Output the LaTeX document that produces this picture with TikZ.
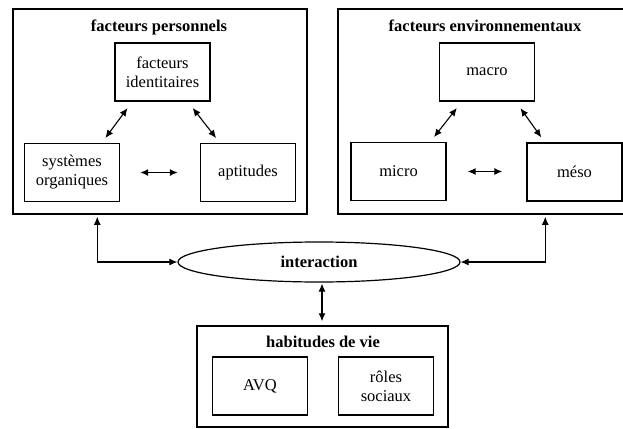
\documentclass[tikz,border=0pt]{standalone}
\usepackage{fontspec}
\setmainfont{Liberation Serif}
\usetikzlibrary{arrows.meta,shapes.geometric,positioning}

\newcommand{\diagfont}{\fontsize{16.5}{19}\selectfont}

\begin{document}
\begin{tikzpicture}[
    x=1pt, y=-1pt,
    frame/.style={draw, rectangle, line width=1.5pt},
    box/.style={draw, rectangle, line width=1.4pt, minimum width=95pt, minimum height=58pt, align=center, inner sep=2pt, font=\diagfont},
    title/.style={anchor=base, inner sep=0pt, font=\diagfont\bfseries},
    arrow/.style={{Latex[length=8pt,width=7pt]}-{Latex[length=8pt,width=7pt]}, line width=1.1pt}
]
\useasboundingbox (0,0) rectangle (623,428);
\clip (0,0) rectangle (623,428);

% Outer frames
\node[frame, minimum width=294pt, minimum height=205pt] (perso) at (160,111.5) {};
\node[frame, minimum width=294pt, minimum height=205pt] (envir) at (485,111.5) {};
\node[frame, minimum width=251pt, minimum height=101pt] (habit) at (322.5,376.5) {};

% Titles
\node[title] (persotitle) at (159,31.5) {facteurs personnels};
\node[title] (envirtitle) at (485,31.5) {facteurs environnementaux};
\node[title] (habittitle) at (323,347.5) {habitudes de vie};

% Personal factors
\node[box] (ident) at (162.5,72) {facteurs\\identitaires};
\node[box] (sysorg) at (72,172.5) {systèmes\\organiques};
\node[box] (aptit) at (248,172.5) {aptitudes};

% Environmental factors
\node[box] (macro) at (487,72) {macro};
\node[box] (micro) at (398.5,171.5) {micro};
\node[box] (meso) at (574.5,172) {méso};

% Life habits
\node[box] (avq) at (260,386) {AVQ};
\node[box] (roles) at (386,386) {rôles\\sociaux};

% Interaction
\node[draw, ellipse, line width=1.2pt, minimum width=282pt, minimum height=40pt, font=\diagfont\bfseries] (inter) at (319,262) {interaction};

% Arrows inside the frames
\draw[arrow, shorten <=8pt, shorten >=6pt] ([xshift=18pt]ident.south west) -- ([xshift=78pt]sysorg.north west);
\draw[arrow, shorten <=8pt, shorten >=6pt] ([xshift=73.5pt]ident.south west) -- ([xshift=20pt]aptit.north west);
\draw[arrow, shorten <=20pt, shorten >=22pt] (sysorg.east) -- (sysorg.east -| aptit.west);
\draw[arrow, shorten <=8pt, shorten >=6pt] ([xshift=23pt]macro.south west) -- ([xshift=80pt]micro.north west);
\draw[arrow, shorten <=8pt, shorten >=6pt] ([xshift=77pt]macro.south west) -- ([xshift=18.5pt]meso.north west);
\draw[arrow, shorten <=21pt, shorten >=24pt] (micro.east) -- (micro.east -| meso.west);

% Arrows to the interaction
\draw[arrow, shorten >=2pt] (inter.west) -| ([xshift=85pt]perso.south west);
\draw[arrow, shorten >=2pt] (inter.east) -| ([xshift=208pt]envir.south west);
\draw[arrow, shorten <=1pt, shorten >=4pt] ([xshift=3pt]inter.south) -- ([xshift=3pt]inter.south |- habit.north);

\end{tikzpicture}
\end{document}
